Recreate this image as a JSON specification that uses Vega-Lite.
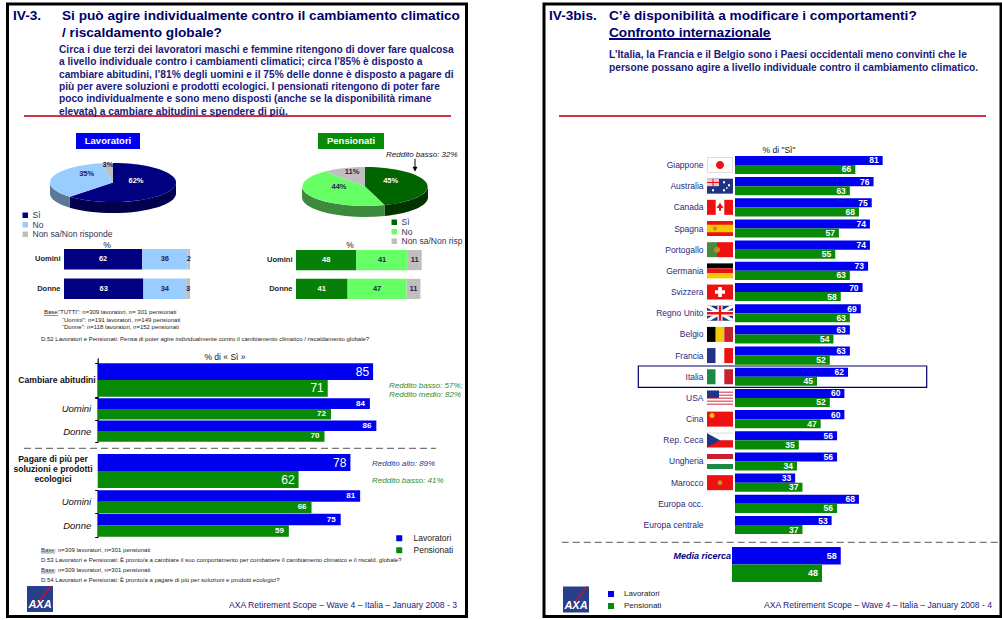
{"$schema":"https://vega.github.io/schema/vega-lite/v6.json","width":1002,"height":620,"padding":0,"autosize":"none","background":"white",
"config":{"view":{"stroke":null},"font":"Liberation Sans","text":{"baseline":"alphabetic","font":"Liberation Sans"}},
"resolve":{"scale":{"x":"independent","y":"independent","color":"independent","shape":"independent","yOffset":"independent"},"axis":{"x":"independent","y":"independent"},"legend":{"color":"independent"}},
"datasets":{
"testi":[
{"blocco":"titolo","col":1,"riga":1,"testo":"IV-3."},
{"blocco":"titolo","col":2,"riga":1,"testo":"Si può agire individualmente contro il cambiamento climatico"},
{"blocco":"titolo","col":2,"riga":2,"testo":"/ riscaldamento globale?"},
{"blocco":"titolo","col":3,"riga":1,"testo":"IV-3bis."},
{"blocco":"titolo","col":4,"riga":1,"testo":"C’è disponibilità a modificare i comportamenti?"},
{"blocco":"titolo","col":4,"riga":2,"testo":"Confronto internazionale"},
{"blocco":"corpo","col":1,"riga":1,"testo":"Circa i due terzi dei lavoratori maschi e femmine ritengono di dover fare qualcosa"},
{"blocco":"corpo","col":1,"riga":2,"testo":"a livello individuale contro i cambiamenti climatici; circa l’85% è disposto a"},
{"blocco":"corpo","col":1,"riga":3,"testo":"cambiare abitudini, l’81% degli uomini e il 75% delle donne è disposto a pagare di"},
{"blocco":"corpo","col":1,"riga":4,"testo":"più per avere soluzioni e prodotti ecologici. I pensionati ritengono di poter fare"},
{"blocco":"corpo","col":1,"riga":5,"testo":"poco individualmente e sono meno disposti (anche se la disponibilità rimane"},
{"blocco":"corpo","col":1,"riga":6,"testo":"elevata) a cambiare abitudini e spendere di più."},
{"blocco":"corpo","col":2,"riga":7,"testo":"L’Italia, la Francia e il Belgio sono i Paesi occidentali meno convinti che le"},
{"blocco":"corpo","col":2,"riga":8,"testo":"persone possano agire a livello individuale contro il cambiamento climatico."},
{"blocco":"note","col":2,"riga":1,"testo":"Base:"},
{"blocco":"note","col":3,"riga":1,"testo":"“TUTTI”: n=309 lavoratori, n= 301 pensionati"},
{"blocco":"note","col":4,"riga":2,"testo":"“Uomini”: n=191 lavoratori, n=149 pensionati"},
{"blocco":"note","col":4,"riga":3,"testo":"“Donne”: n=118 lavoratori, n=152 pensionati"},
{"blocco":"note","col":1,"riga":4,"testo":"D.52 Lavoratori e Pensionati: Pensa di poter agire individualmente contro il cambiamento climatico / riscaldamento globale?"},
{"blocco":"note","col":1,"riga":5,"testo":"Base:"},
{"blocco":"note","col":3,"riga":5,"testo":"n=309 lavoratori, n=301 pensionati"},
{"blocco":"note","col":1,"riga":6,"testo":"D.53 Lavoratori e Pensionati: È pronto/a a cambiare il suo comportamento per combattere il cambiamento climatico e il riscald. globale?"},
{"blocco":"note","col":1,"riga":7,"testo":"Base:"},
{"blocco":"note","col":3,"riga":7,"testo":"n=309 lavoratori, n=301 pensionati"},
{"blocco":"note","col":1,"riga":8,"testo":"D.54 Lavoratori e Pensionati: È pronto/a a pagare di più per soluzioni e prodotti ecologici?"},
{"blocco":"piede","col":1,"riga":1,"testo":"AXA Retirement Scope – Wave 4 – Italia –  January 2008 - 3"},
{"blocco":"piede","col":2,"riga":1,"testo":"AXA Retirement Scope – Wave 4 – Italia –  January 2008 - 4"},
{"blocco":"percento","col":1,"riga":2,"testo":"%"},
{"blocco":"percento","col":2,"riga":3,"testo":"% di « Sì »"},
{"blocco":"percento","col":3,"riga":2,"testo":"%"},
{"blocco":"percento","col":4,"riga":1,"testo":"% di \"Sì\""},
{"blocco":"freccia","col":1,"riga":1,"testo":"Reddito basso: 32%"},
{"blocco":"verde","col":2,"riga":1,"testo":"Reddito basso: 57%;"},
{"blocco":"verde","col":2,"riga":2,"testo":"Reddito medio: 82%"},
{"blocco":"verde","col":1,"riga":3,"testo":"Reddito basso: 41%"},
{"blocco":"blu","col":1,"riga":1,"testo":"Reddito alto: 89%"},
{"blocco":"tema","col":1,"riga":1,"testo":"Cambiare abitudini"},
{"blocco":"tema","col":2,"riga":2,"testo":"Pagare di più per"},
{"blocco":"tema","col":2,"riga":3,"testo":"soluzioni e prodotti"},
{"blocco":"tema","col":2,"riga":4,"testo":"ecologici"},
{"blocco":"media","col":1,"riga":1,"testo":"Media ricerca"}
],
"torte":[
{"gruppo":"Lavoratori","risposta":"Sì","valore":62,"n":1},
{"gruppo":"Lavoratori","risposta":"No","valore":35,"n":2},
{"gruppo":"Lavoratori","risposta":"Non sa/Non risponde","valore":3,"n":3},
{"gruppo":"Pensionati","risposta":"Sì","valore":45,"n":4},
{"gruppo":"Pensionati","risposta":"No","valore":44,"n":5},
{"gruppo":"Pensionati","risposta":"Non sa/Non risp","valore":11,"n":6}
],
"barre":[
{"gruppo":"Lavoratori","sesso":"Uomini","risposta":"Sì","ordine":1,"valore":62},
{"gruppo":"Lavoratori","sesso":"Uomini","risposta":"No","ordine":2,"valore":36},
{"gruppo":"Lavoratori","sesso":"Uomini","risposta":"Non sa","ordine":3,"valore":2},
{"gruppo":"Lavoratori","sesso":"Donne","risposta":"Sì","ordine":1,"valore":63},
{"gruppo":"Lavoratori","sesso":"Donne","risposta":"No","ordine":2,"valore":34},
{"gruppo":"Lavoratori","sesso":"Donne","risposta":"Non sa","ordine":3,"valore":3},
{"gruppo":"Pensionati","sesso":"Uomini","risposta":"Sì","ordine":1,"valore":48},
{"gruppo":"Pensionati","sesso":"Uomini","risposta":"No","ordine":2,"valore":41},
{"gruppo":"Pensionati","sesso":"Uomini","risposta":"Non sa","ordine":3,"valore":11},
{"gruppo":"Pensionati","sesso":"Donne","risposta":"Sì","ordine":1,"valore":41},
{"gruppo":"Pensionati","sesso":"Donne","risposta":"No","ordine":2,"valore":47},
{"gruppo":"Pensionati","sesso":"Donne","risposta":"Non sa","ordine":3,"valore":11}
],
"generale":[
{"tema":"Cambiare","sesso":"Totale","gruppo":"Lavoratori","valore":85},
{"tema":"Cambiare","sesso":"Totale","gruppo":"Pensionati","valore":71},
{"tema":"Cambiare","sesso":"Uomini","gruppo":"Lavoratori","valore":84},
{"tema":"Cambiare","sesso":"Uomini","gruppo":"Pensionati","valore":72},
{"tema":"Cambiare","sesso":"Donne","gruppo":"Lavoratori","valore":86},
{"tema":"Cambiare","sesso":"Donne","gruppo":"Pensionati","valore":70},
{"tema":"Pagare","sesso":"Totale","gruppo":"Lavoratori","valore":78},
{"tema":"Pagare","sesso":"Totale","gruppo":"Pensionati","valore":62},
{"tema":"Pagare","sesso":"Uomini","gruppo":"Lavoratori","valore":81},
{"tema":"Pagare","sesso":"Uomini","gruppo":"Pensionati","valore":66},
{"tema":"Pagare","sesso":"Donne","gruppo":"Lavoratori","valore":75},
{"tema":"Pagare","sesso":"Donne","gruppo":"Pensionati","valore":59}
],
"paesi":[
{"paese":"Giappone","gruppo":"Lavoratori","valore":81},{"paese":"Giappone","gruppo":"Pensionati","valore":66},
{"paese":"Australia","gruppo":"Lavoratori","valore":76},{"paese":"Australia","gruppo":"Pensionati","valore":63},
{"paese":"Canada","gruppo":"Lavoratori","valore":75},{"paese":"Canada","gruppo":"Pensionati","valore":68},
{"paese":"Spagna","gruppo":"Lavoratori","valore":74},{"paese":"Spagna","gruppo":"Pensionati","valore":57},
{"paese":"Portogallo","gruppo":"Lavoratori","valore":74},{"paese":"Portogallo","gruppo":"Pensionati","valore":55},
{"paese":"Germania","gruppo":"Lavoratori","valore":73},{"paese":"Germania","gruppo":"Pensionati","valore":63},
{"paese":"Svizzera","gruppo":"Lavoratori","valore":70},{"paese":"Svizzera","gruppo":"Pensionati","valore":58},
{"paese":"Regno Unito","gruppo":"Lavoratori","valore":69},{"paese":"Regno Unito","gruppo":"Pensionati","valore":63},
{"paese":"Belgio","gruppo":"Lavoratori","valore":63},{"paese":"Belgio","gruppo":"Pensionati","valore":54},
{"paese":"Francia","gruppo":"Lavoratori","valore":63},{"paese":"Francia","gruppo":"Pensionati","valore":52},
{"paese":"Italia","gruppo":"Lavoratori","valore":62},{"paese":"Italia","gruppo":"Pensionati","valore":45},
{"paese":"USA","gruppo":"Lavoratori","valore":60},{"paese":"USA","gruppo":"Pensionati","valore":52},
{"paese":"Cina","gruppo":"Lavoratori","valore":60},{"paese":"Cina","gruppo":"Pensionati","valore":47},
{"paese":"Rep. Ceca","gruppo":"Lavoratori","valore":56},{"paese":"Rep. Ceca","gruppo":"Pensionati","valore":35},
{"paese":"Ungheria","gruppo":"Lavoratori","valore":56},{"paese":"Ungheria","gruppo":"Pensionati","valore":34},
{"paese":"Marocco","gruppo":"Lavoratori","valore":33},{"paese":"Marocco","gruppo":"Pensionati","valore":37},
{"paese":"Europa occ.","gruppo":"Lavoratori","valore":68},{"paese":"Europa occ.","gruppo":"Pensionati","valore":56},
{"paese":"Europa centrale","gruppo":"Lavoratori","valore":53},{"paese":"Europa centrale","gruppo":"Pensionati","valore":37}
],
"media":[{"voce":"Media ricerca","gruppo":"Lavoratori","valore":58},{"voce":"Media ricerca","gruppo":"Pensionati","valore":48}],
"bandiere":[
{"paese":"Giappone","forma":"fondo","tinta":"grigio"},{"paese":"Giappone","forma":"interno","tinta":"bianco"},{"paese":"Giappone","forma":"disco","tinta":"rosso"},
{"paese":"Australia","forma":"fondo","tinta":"blu"},{"paese":"Australia","forma":"cantone","tinta":"rosa"},{"paese":"Australia","forma":"crocetta","tinta":"rosso"},{"paese":"Australia","forma":"stelle","tinta":"bianco"},
{"paese":"Canada","forma":"fondo","tinta":"bianco"},{"paese":"Canada","forma":"v1","tinta":"rosso"},{"paese":"Canada","forma":"v3","tinta":"rosso"},{"paese":"Canada","forma":"foglia","tinta":"rosso"},
{"paese":"Spagna","forma":"fondo","tinta":"giallo"},{"paese":"Spagna","forma":"fasce","tinta":"rosso"},{"paese":"Spagna","forma":"stemma","tinta":"arancio"},
{"paese":"Portogallo","forma":"sin40","tinta":"verdeP"},{"paese":"Portogallo","forma":"des60","tinta":"rosso"},{"paese":"Portogallo","forma":"sfera","tinta":"arancio"},
{"paese":"Germania","forma":"h1","tinta":"nero"},{"paese":"Germania","forma":"h2","tinta":"rosso"},{"paese":"Germania","forma":"h3","tinta":"giallo"},
{"paese":"Svizzera","forma":"fondo","tinta":"rosso"},{"paese":"Svizzera","forma":"croce","tinta":"bianco"},
{"paese":"Regno Unito","forma":"fondo","tinta":"blu"},{"paese":"Regno Unito","forma":"xgb","tinta":"bianco"},{"paese":"Regno Unito","forma":"croceGB","tinta":"bianco"},{"paese":"Regno Unito","forma":"croceRossa","tinta":"rosso"},
{"paese":"Belgio","forma":"v1","tinta":"nero"},{"paese":"Belgio","forma":"v2","tinta":"giallo"},{"paese":"Belgio","forma":"v3","tinta":"rossoScuro"},
{"paese":"Francia","forma":"v1","tinta":"blu"},{"paese":"Francia","forma":"v2","tinta":"bianco"},{"paese":"Francia","forma":"v3","tinta":"rosso"},
{"paese":"Italia","forma":"v1","tinta":"verde"},{"paese":"Italia","forma":"v2","tinta":"bianco"},{"paese":"Italia","forma":"v3","tinta":"rossoScuro"},
{"paese":"USA","forma":"fondo","tinta":"bianco"},{"paese":"USA","forma":"strisce","tinta":"rossoChiaro"},{"paese":"USA","forma":"cantone","tinta":"blu"},
{"paese":"Cina","forma":"fondo","tinta":"rosso"},{"paese":"Cina","forma":"stella","tinta":"giallo"},
{"paese":"Rep. Ceca","forma":"fondo","tinta":"grigio"},{"paese":"Rep. Ceca","forma":"metaAlta","tinta":"bianco"},{"paese":"Rep. Ceca","forma":"metaBassa","tinta":"rosso"},{"paese":"Rep. Ceca","forma":"triangolo","tinta":"blu"},
{"paese":"Ungheria","forma":"h1","tinta":"rossoScuro"},{"paese":"Ungheria","forma":"h2","tinta":"bianco"},{"paese":"Ungheria","forma":"h3","tinta":"verde"},
{"paese":"Marocco","forma":"fondo","tinta":"rosso"},{"paese":"Marocco","forma":"stemmaC","tinta":"arancio"}
],
"cornici":[{"da":1,"a":2,"su":1,"giu":2},{"da":3,"a":4,"su":1,"giu":2}],
"linee":[{"da":1,"a":2,"livello":1},{"da":3,"a":4,"livello":2}],
"caselle":[{"gruppo":"Lavoratori"},{"gruppo":"Pensionati"}],
"pagine":[{"pagina":"IV-3."},{"pagina":"IV-3bis."}]
},
"layer":[
{"data":{"name":"cornici"},"mark":{"type":"rect","fillOpacity":0,"stroke":"black","strokeWidth":3},"encoding":{"x":{"field":"da","type":"quantitative","scale":{"domain":[1,2,3,4],"range":[7.5,466.5,544,1001]},"axis":null},"x2":{"field":"a"},"y":{"field":"su","type":"quantitative","scale":{"domain":[1,2],"range":[4,616.5]},"axis":null},"y2":{"field":"giu"}}},
{"data":{"name":"linee"},"mark":{"type":"rule","stroke":"#cc3344","strokeWidth":2},"encoding":{"x":{"field":"da","type":"quantitative","scale":{"domain":[1,2,3,4],"range":[24,451,559,986]},"axis":null},"x2":{"field":"a"},"y":{"field":"livello","type":"quantitative","scale":{"domain":[1,2],"range":[116,116]},"axis":null}}},
{"data":{"name":"linee"},"mark":{"type":"rule","stroke":"#555555","strokeWidth":1,"strokeDash":[7,4]},"encoding":{"x":{"field":"da","type":"quantitative","scale":{"domain":[1,2,3,4],"range":[24,436,561.7,997.7]},"axis":null},"x2":{"field":"a"},"y":{"field":"livello","type":"quantitative","scale":{"domain":[1,2],"range":[448.3,542.3]},"axis":null}}},
{"data":{"name":"pagine"},"transform":[{"filter":"datum.pagina==='IV-3bis.'"}],"mark":{"type":"rule","stroke":"#000080","strokeWidth":2},"encoding":{"x":{"datum":0,"type":"quantitative","scale":{"domain":[0,1],"range":[609,771]},"axis":null},"x2":{"datum":1},"y":{"field":"pagina","type":"nominal","scale":{"type":"point","range":[39,39]},"axis":null}}},
{"data":{"name":"pagine"},"transform":[{"filter":"datum.pagina==='IV-3bis.'"}],"mark":{"type":"rect","fillOpacity":0,"stroke":"#000066","strokeWidth":1.2},"encoding":{"x":{"datum":0,"type":"quantitative","scale":{"domain":[0,1],"range":[638.3,926.7]},"axis":null},"x2":{"datum":1},"y":{"datum":0,"type":"quantitative","scale":{"domain":[0,1],"range":[366,387.3]},"axis":null},"y2":{"datum":1}}},

{"data":{"name":"testi"},"transform":[{"filter":"datum.blocco==='titolo'"}],"mark":{"type":"text","align":"left","fontSize":13.65,"fontWeight":"bold","fill":"#000066"},"encoding":{"x":{"field":"col","type":"quantitative","scale":{"domain":[1,2,3,4],"range":[13,62,549,609]},"axis":null},"y":{"field":"riga","type":"quantitative","scale":{"domain":[1,2],"range":[20,36.5]},"axis":null},"text":{"field":"testo"}}},
{"data":{"name":"testi"},"transform":[{"filter":"datum.blocco==='corpo'"}],"mark":{"type":"text","align":"left","fontSize":10.2,"fontWeight":"bold","fill":"#1a1a7a"},"encoding":{"x":{"field":"col","type":"quantitative","scale":{"domain":[1,2],"range":[59,609]},"axis":null},"y":{"field":"riga","type":"quantitative","scale":{"domain":[1,2,3,4,5,6,7,8],"range":[52.7,65,77.5,90,102,115,58,71]},"axis":null},"text":{"field":"testo"}}},
{"data":{"name":"testi"},"transform":[{"filter":"datum.blocco==='note'"}],"encoding":{"x":{"field":"col","type":"quantitative","scale":{"domain":[1,2,3,4],"range":[41,44,58,62]},"axis":null},"y":{"field":"riga","type":"quantitative","scale":{"domain":[1,2,3,4,5,6,7,8],"range":[314,321.7,329,340.7,551.7,561.7,571.7,581.7]},"axis":null}},"layer":[
 {"mark":{"type":"text","align":"left","fontSize":6,"fill":"#222222"},"encoding":{"text":{"field":"testo"}}},
 {"transform":[{"filter":"datum.testo==='Base:'"}],"mark":{"type":"point","filled":true,"size":4,"strokeWidth":0,"opacity":1,"shape":"M0,1H14V1.5H0Z","fill":"#222222"}}
]},
{"data":{"name":"testi"},"transform":[{"filter":"datum.blocco==='piede'"}],"mark":{"type":"text","align":"left","fontSize":8.6,"fill":"#22227a"},"encoding":{"x":{"field":"col","type":"quantitative","scale":{"domain":[1,2],"range":[229,764]},"axis":null},"y":{"field":"riga","type":"quantitative","scale":{"domain":[0,1],"range":[607.7,607.7]},"axis":null},"text":{"field":"testo"}}},
{"data":{"name":"testi"},"transform":[{"filter":"datum.blocco==='percento'"}],"mark":{"type":"text","align":"center","fontSize":8.5,"fill":"#111111"},"encoding":{"x":{"field":"col","type":"quantitative","scale":{"domain":[1,2,3,4],"range":[107,225,350,779]},"axis":null},"y":{"field":"riga","type":"quantitative","scale":{"domain":[1,2,3],"range":[153,248,360]},"axis":null},"text":{"field":"testo"}}},
{"data":{"name":"testi"},"transform":[{"filter":"datum.blocco==='freccia'"}],"encoding":{"x":{"field":"col","type":"quantitative","scale":{"domain":[0,1],"range":[386,386]},"axis":null},"y":{"field":"riga","type":"quantitative","scale":{"domain":[0,1],"range":[156.7,156.7]},"axis":null}},"layer":[
 {"mark":{"type":"text","align":"left","fontSize":8,"fontStyle":"italic","fill":"#111111"},"encoding":{"text":{"field":"testo"}}},
 {"mark":{"type":"point","filled":true,"size":4,"strokeWidth":0,"opacity":1,"shape":"M28.5,2H29.5V10H31.5L29,15L26.5,10H28.5Z","fill":"#000000"}}
]},
{"data":{"name":"testi"},"transform":[{"filter":"datum.blocco==='verde'"}],"mark":{"type":"text","align":"left","fontSize":8,"fontStyle":"italic","fill":"#2e8b2e"},"encoding":{"x":{"field":"col","type":"quantitative","scale":{"domain":[1,2],"range":[372,389]},"axis":null},"y":{"field":"riga","type":"quantitative","scale":{"domain":[1,2,3],"range":[387.7,396.7,482.7]},"axis":null},"text":{"field":"testo"}}},
{"data":{"name":"testi"},"transform":[{"filter":"datum.blocco==='blu'"}],"mark":{"type":"text","align":"left","fontSize":8,"fontStyle":"italic","fill":"#2233aa"},"encoding":{"x":{"field":"col","type":"quantitative","scale":{"domain":[0,1],"range":[372,372]},"axis":null},"y":{"field":"riga","type":"quantitative","scale":{"domain":[0,1],"range":[465.7,465.7]},"axis":null},"text":{"field":"testo"}}},
{"data":{"name":"testi"},"transform":[{"filter":"datum.blocco==='tema'"}],"mark":{"type":"text","align":"center","fontSize":8.6,"fontWeight":"bold","fill":"#111111"},"encoding":{"x":{"field":"col","type":"quantitative","scale":{"domain":[1,2],"range":[57,53]},"axis":null},"y":{"field":"riga","type":"quantitative","scale":{"domain":[1,2,3,4],"range":[383,461.7,471.7,481.7]},"axis":null},"text":{"field":"testo"}}},
{"data":{"name":"testi"},"transform":[{"filter":"datum.blocco==='media'"}],"mark":{"type":"text","align":"right","fontSize":9,"fontWeight":"bold","fontStyle":"italic","fill":"#000080"},"encoding":{"x":{"field":"col","type":"quantitative","scale":{"domain":[0,1],"range":[731,731]},"axis":null},"y":{"field":"riga","type":"quantitative","scale":{"domain":[0,1],"range":[559,559]},"axis":null},"text":{"field":"testo"}}},

{"data":{"name":"caselle"},"encoding":{"x":{"field":"gruppo","type":"nominal","scale":{"type":"point","domain":["Lavoratori","Pensionati"],"range":[108,351],"padding":0},"axis":null},"y":{"field":"gruppo","type":"nominal","scale":{"type":"point","domain":["Lavoratori","Pensionati"],"range":[141,141]},"axis":null}},"layer":[
 {"mark":{"type":"point","filled":true,"size":4,"strokeWidth":0,"opacity":1},"encoding":{"shape":{"field":"gruppo","scale":{"domain":["Lavoratori","Pensionati"],"range":["M-32,-8H32V8H-32Z","M-33,-8H33V8H-33Z"]},"legend":null},"color":{"field":"gruppo","scale":{"domain":["Lavoratori","Pensionati"],"range":["#0000ee","#078b07"]},"legend":null}}},
 {"mark":{"type":"text","fontSize":9.5,"fontWeight":"bold","fill":"white","baseline":"middle"},"encoding":{"text":{"field":"gruppo"}}}
]},

{"data":{"name":"torte"},"transform":[{"filter":"datum.gruppo==='Lavoratori'"}],"mark":{"type":"point","filled":true,"size":4,"strokeWidth":0,"opacity":1},"encoding":{"x":{"field":"gruppo","type":"nominal","scale":{"type":"point","range":[113,113]},"axis":null},"y":{"field":"gruppo","type":"nominal","scale":{"type":"point","range":[182.5,182.5]},"axis":null},"shape":{"field":"risposta","scale":{"domain":["Sì","No","Non sa/Non risponde"],"range":["M63,0A63,19.5 0 0 1 -43.1,14.2L-43.1,25.2A63,19.5 0 0 0 63,11Z","M-43.1,14.2A63,19.5 0 0 1 -63,0L-63,11A63,19.5 0 0 0 -43.1,25.2Z","M0,0Z"]},"legend":null},"color":{"field":"risposta","scale":{"domain":["Sì","No","Non sa/Non risponde"],"range":["#00004d","#5b7896","#999999"]},"legend":null}}},
{"data":{"name":"torte"},"transform":[{"filter":"datum.gruppo==='Lavoratori'"}],"mark":{"type":"point","filled":true,"size":4,"strokeWidth":0,"opacity":1},"encoding":{"x":{"field":"gruppo","type":"nominal","scale":{"type":"point","range":[113,113]},"axis":null},"y":{"field":"gruppo","type":"nominal","scale":{"type":"point","range":[182.5,182.5]},"axis":null},"shape":{"field":"risposta","scale":{"domain":["Sì","No","Non sa/Non risponde"],"range":["M0,0L0,-19.5A63,19.5 0 1 1 -43.1,14.2Z","M0,0L-43.1,14.2A63,19.5 0 0 1 -11.8,-19.15Z","M0,0L-11.8,-19.15A63,19.5 0 0 1 0,-19.5Z"]},"legend":null},"color":{"field":"risposta","scale":{"domain":["Sì","No","Non sa/Non risponde"],"range":["#000080","#99ccff","#bfbfbf"]},"legend":null}}},
{"data":{"name":"torte"},"transform":[{"filter":"datum.gruppo==='Lavoratori'"}],"mark":{"type":"point","filled":true,"size":0,"strokeWidth":0},"encoding":{"x":{"field":"gruppo","type":"nominal","scale":{"type":"point","range":[113,113]},"axis":null},"y":{"field":"gruppo","type":"nominal","scale":{"type":"point","range":[182.5,182.5]},"axis":null},"color":{"field":"risposta","scale":{"domain":["Sì","No","Non sa/Non risponde"],"range":["#000080","#99ccff","#bfbfbf"]},"legend":{"orient":"none","legendX":21,"legendY":211,"title":null,"symbolType":"square","symbolSize":30,"labelFontSize":8.5,"labelColor":"#333355","rowPadding":0.5,"labelOffset":3,"symbolOpacity":1}}}},
{"data":{"name":"torte"},"transform":[{"filter":"datum.gruppo==='Pensionati'"}],"mark":{"type":"point","filled":true,"size":4,"strokeWidth":0,"opacity":1},"encoding":{"x":{"field":"gruppo","type":"nominal","scale":{"type":"point","range":[365,365]},"axis":null},"y":{"field":"gruppo","type":"nominal","scale":{"type":"point","range":[186.5,186.5]},"axis":null},"shape":{"field":"risposta","scale":{"domain":["Sì","No","Non sa/Non risp"],"range":["M63,0A63,19.5 0 0 1 19.5,18.5L19.5,29.5A63,19.5 0 0 0 63,11Z","M19.5,18.5A63,19.5 0 0 1 -63,0L-63,11A63,19.5 0 0 0 19.5,29.5Z","M0,0Z"]},"legend":null},"color":{"field":"risposta","scale":{"domain":["Sì","No","Non sa/Non risp"],"range":["#003300","#3d8a3d","#999999"]},"legend":null}}},
{"data":{"name":"torte"},"transform":[{"filter":"datum.gruppo==='Pensionati'"}],"mark":{"type":"point","filled":true,"size":4,"strokeWidth":0,"opacity":1},"encoding":{"x":{"field":"gruppo","type":"nominal","scale":{"type":"point","range":[365,365]},"axis":null},"y":{"field":"gruppo","type":"nominal","scale":{"type":"point","range":[186.5,186.5]},"axis":null},"shape":{"field":"risposta","scale":{"domain":["Sì","No","Non sa/Non risp"],"range":["M0,0L0,-19.5A63,19.5 0 0 1 19.5,18.5Z","M0,0L19.5,18.5A63,19.5 0 0 1 -40.1,-15Z","M0,0L-40.1,-15A63,19.5 0 0 1 0,-19.5Z"]},"legend":null},"color":{"field":"risposta","scale":{"domain":["Sì","No","Non sa/Non risp"],"range":["#006400","#66ff66","#bfbfbf"]},"legend":null}}},
{"data":{"name":"torte"},"transform":[{"filter":"datum.gruppo==='Pensionati'"}],"mark":{"type":"point","filled":true,"size":0,"strokeWidth":0},"encoding":{"x":{"field":"gruppo","type":"nominal","scale":{"type":"point","range":[365,365]},"axis":null},"y":{"field":"gruppo","type":"nominal","scale":{"type":"point","range":[186.5,186.5]},"axis":null},"color":{"field":"risposta","scale":{"domain":["Sì","No","Non sa/Non risp"],"range":["#006400","#66ff66","#bfbfbf"]},"legend":{"orient":"none","legendX":390,"legendY":218,"title":null,"symbolType":"square","symbolSize":30,"labelFontSize":8.5,"labelColor":"#333355","rowPadding":0.5,"labelOffset":3,"symbolOpacity":1}}}},
{"data":{"name":"torte"},"transform":[{"calculate":"datum.valore+'%'","as":"etichetta"}],"mark":{"type":"text","fontSize":7.5,"fontWeight":"bold","baseline":"middle"},"encoding":{"x":{"field":"n","type":"quantitative","scale":{"domain":[1,2,3,4,5,6],"range":[136,86.7,108,390.7,339,352]},"axis":null},"y":{"field":"n","type":"quantitative","scale":{"domain":[1,2,3,4,5,6],"range":[180.7,174,165,180.7,187,171.7]},"axis":null},"text":{"field":"etichetta"},"color":{"condition":{"test":"datum.risposta==='Sì'","value":"white"},"value":"#222255"}}},

{"data":{"name":"barre"},"transform":[{"filter":"datum.gruppo==='Lavoratori'"},{"stack":"valore","groupby":["sesso"],"sort":[{"field":"ordine","order":"ascending"}],"as":["da","a"]},{"calculate":"(datum.da+datum.a)/2","as":"centro"}],"encoding":{"y":{"field":"sesso","type":"nominal","scale":{"domain":["Uomini","Donne"],"range":[249,299],"paddingInner":0.3,"paddingOuter":0},"axis":{"title":null,"orient":"left","offset":-64,"domain":false,"ticks":false,"labelPadding":4,"labelFontSize":7.5,"labelFontWeight":"bold","labelColor":"#222222"}}},"layer":[
 {"mark":"bar","encoding":{"x":{"field":"da","type":"quantitative","scale":{"domain":[0,100],"range":[64,190]},"axis":null},"x2":{"field":"a"},"color":{"field":"risposta","scale":{"domain":["Sì","No","Non sa"],"range":["#000080","#99ccff","#bfbfbf"]},"legend":null}}},
 {"mark":{"type":"text","fontSize":7.5,"fontWeight":"bold","baseline":"middle"},"encoding":{"x":{"field":"centro","type":"quantitative","axis":null},"text":{"field":"valore"},"color":{"condition":{"test":"datum.risposta==='Sì'","value":"white"},"value":"#222255"}}}
]},
{"data":{"name":"barre"},"transform":[{"filter":"datum.gruppo==='Pensionati'"},{"stack":"valore","groupby":["sesso"],"sort":[{"field":"ordine","order":"ascending"}],"as":["da","a"]},{"calculate":"(datum.da+datum.a)/2","as":"centro"}],"encoding":{"y":{"field":"sesso","type":"nominal","scale":{"domain":["Uomini","Donne"],"range":[250,299],"paddingInner":0.3,"paddingOuter":0},"axis":{"title":null,"orient":"left","offset":-296,"domain":false,"ticks":false,"labelPadding":4,"labelFontSize":7.5,"labelFontWeight":"bold","labelColor":"#222222"}}},"layer":[
 {"mark":"bar","encoding":{"x":{"field":"da","type":"quantitative","scale":{"domain":[0,100],"range":[296,421.7]},"axis":null},"x2":{"field":"a"},"color":{"field":"risposta","scale":{"domain":["Sì","No","Non sa"],"range":["#078007","#66ff66","#bfbfbf"]},"legend":null}}},
 {"mark":{"type":"text","fontSize":7.5,"fontWeight":"bold","baseline":"middle"},"encoding":{"x":{"field":"centro","type":"quantitative","axis":null},"text":{"field":"valore"},"color":{"condition":{"test":"datum.risposta==='Sì'","value":"white"},"value":"#222255"}}}
]},

{"data":{"name":"generale"},"transform":[{"filter":"datum.tema==='Cambiare'&&datum.sesso==='Totale'"}],"encoding":{"x":{"field":"valore","type":"quantitative","stack":null,"scale":{"domain":[0,100],"range":[97.7,421.7]},"axis":null},"y":{"field":"tema","type":"nominal","scale":{"range":[358,398],"paddingInner":0,"paddingOuter":0.1,"align":0.8},"axis":{"title":null,"orient":"left","offset":-97.7,"labels":false,"tickBand":"extent","tickSize":3,"domainColor":"#000000","tickColor":"#000000","domainWidth":1.2}},"yOffset":{"field":"gruppo","type":"nominal","scale":{"domain":["Lavoratori","Pensionati"],"paddingInner":0}}},"layer":[
 {"mark":"bar","encoding":{"color":{"field":"gruppo","type":"nominal","scale":{"domain":["Lavoratori","Pensionati"],"range":["#0000ee","#078b07"]},"legend":{"orient":"none","legendX":395,"legendY":534,"title":null,"symbolType":"square","symbolSize":36,"labelFontSize":8.5,"labelColor":"#222222","rowPadding":3,"labelOffset":10}}}},
 {"mark":{"type":"text","align":"right","dx":-4,"fontSize":12,"fill":"white","baseline":"middle"},"encoding":{"text":{"field":"valore"}}}
]},
{"data":{"name":"generale"},"transform":[{"filter":"datum.tema==='Pagare'&&datum.sesso==='Totale'"}],"encoding":{"x":{"field":"valore","type":"quantitative","stack":null,"scale":{"domain":[0,100],"range":[97.7,421.7]},"axis":null},"y":{"field":"tema","type":"nominal","scale":{"range":[454,488],"paddingInner":0,"paddingOuter":0},"axis":null},"yOffset":{"field":"gruppo","type":"nominal","scale":{"domain":["Lavoratori","Pensionati"],"paddingInner":0}}},"layer":[
 {"mark":"bar","encoding":{"color":{"field":"gruppo","type":"nominal","scale":{"domain":["Lavoratori","Pensionati"],"range":["#0000ee","#078b07"]},"legend":null}}},
 {"mark":{"type":"text","align":"right","dx":-4,"fontSize":12,"fill":"white","baseline":"middle"},"encoding":{"text":{"field":"valore"}}}
]},
{"data":{"name":"generale"},"transform":[{"filter":"datum.tema==='Cambiare'&&datum.sesso!=='Totale'"}],"encoding":{"x":{"field":"valore","type":"quantitative","stack":null,"scale":{"domain":[0,100],"range":[97.7,421.7]},"axis":null},"y":{"field":"sesso","type":"nominal","scale":{"domain":["Uomini","Donne"],"range":[398,442],"paddingInner":0.04,"paddingOuter":0.01},"axis":{"title":null,"orient":"left","offset":-97.7,"tickBand":"extent","tickSize":3,"labelPadding":4,"labelFontSize":9.5,"labelFontStyle":"italic","labelColor":"#111111","domainColor":"#000000","tickColor":"#000000","domainWidth":1.2}},"yOffset":{"field":"gruppo","type":"nominal","scale":{"domain":["Lavoratori","Pensionati"],"paddingInner":0}}},"layer":[
 {"mark":"bar","encoding":{"color":{"field":"gruppo","type":"nominal","scale":{"domain":["Lavoratori","Pensionati"],"range":["#0000ee","#078b07"]},"legend":null}}},
 {"mark":{"type":"text","align":"right","dx":-5,"fontSize":8,"fontWeight":"bold","fill":"white","baseline":"middle"},"encoding":{"text":{"field":"valore"}}}
]},
{"data":{"name":"generale"},"transform":[{"filter":"datum.tema==='Pagare'&&datum.sesso!=='Totale'"}],"encoding":{"x":{"field":"valore","type":"quantitative","stack":null,"scale":{"domain":[0,100],"range":[97.7,421.7]},"axis":null},"y":{"field":"sesso","type":"nominal","scale":{"domain":["Uomini","Donne"],"range":[490,537],"paddingInner":0.03,"paddingOuter":0.01},"axis":{"title":null,"orient":"left","offset":-97.7,"tickBand":"extent","tickSize":3,"labelPadding":4,"labelFontSize":9.5,"labelFontStyle":"italic","labelColor":"#111111","domainColor":"#000000","tickColor":"#000000","domainWidth":1.2}},"yOffset":{"field":"gruppo","type":"nominal","scale":{"domain":["Lavoratori","Pensionati"],"paddingInner":0}}},"layer":[
 {"mark":"bar","encoding":{"color":{"field":"gruppo","type":"nominal","scale":{"domain":["Lavoratori","Pensionati"],"range":["#0000ee","#078b07"]},"legend":null}}},
 {"mark":{"type":"text","align":"right","dx":-5,"fontSize":8,"fontWeight":"bold","fill":"white","baseline":"middle"},"encoding":{"text":{"field":"valore"}}}
]},

{"data":{"name":"paesi"},"encoding":{"x":{"field":"valore","type":"quantitative","stack":null,"scale":{"domain":[0,100],"range":[735,917.3]},"axis":null},"y":{"field":"paese","type":"nominal","sort":null,"scale":{"range":[154.4,535.6],"paddingInner":0.143,"paddingOuter":0.07},"axis":{"title":null,"orient":"left","offset":-735,"domain":false,"ticks":false,"labelPadding":32,"labelFontSize":8.5,"labelColor":"#2a2a7a"}},"yOffset":{"field":"gruppo","type":"nominal","scale":{"domain":["Lavoratori","Pensionati"],"paddingInner":0}}},"layer":[
 {"mark":"bar","encoding":{"color":{"field":"gruppo","type":"nominal","scale":{"domain":["Lavoratori","Pensionati"],"range":["#0000ee","#078b07"]},"legend":null}}},
 {"mark":{"type":"text","align":"right","dx":-4,"fontSize":8.5,"fontWeight":"bold","fill":"white","baseline":"middle"},"encoding":{"text":{"field":"valore"}}}
]},
{"data":{"name":"bandiere"},"mark":{"type":"point","filled":true,"size":4,"strokeWidth":0,"opacity":1},"encoding":{
 "x":{"datum":"bandiera","type":"nominal","scale":{"type":"point","domain":["bandiera"],"range":[720,720]},"axis":null},
 "y":{"field":"paese","type":"nominal","scale":{"domain":["Giappone","Australia","Canada","Spagna","Portogallo","Germania","Svizzera","Regno Unito","Belgio","Francia","Italia","USA","Cina","Rep. Ceca","Ungheria","Marocco","Europa occ.","Europa centrale"],"range":[154.4,535.6],"paddingInner":0.143,"paddingOuter":0.07},"axis":null},
 "shape":{"field":"forma","scale":{"domain":["fondo","interno","disco","cantone","crocetta","stelle","v1","v2","v3","foglia","fasce","stemma","sin40","des60","sfera","h1","h2","h3","croce","xgb","croceGB","croceRossa","strisce","stella","metaAlta","metaBassa","triangolo","stemmaC"],
 "range":["M-13,-7.5H13V7.5H-13Z","M-12.5,-7H12.5V7H-12.5Z","M-4,0A4,4 0 1 1 4,0A4,4 0 1 1 -4,0Z","M-13,-7.5H-1V0H-13Z","M-7.5,-7.5H-6.5V-4.2H-1V-3.2H-6.5V0H-7.5V-3.2H-13V-4.2H-7.5Z","M-8,3H-6V5H-8ZM3,-5H5V-3H3ZM8,-2H10V0H8ZM3,3H5V5H3ZM6,1H7.5V2.5H6Z","M-13,-7.5H-4.3V7.5H-13Z","M-4.3,-7.5H4.3V7.5H-4.3Z","M4.3,-7.5H13V7.5H4.3Z","M0,-4.5L3.5,0.5L1,1V3.5H-1V1L-3.5,0.5Z","M-13,-7.5H13V-3.7H-13ZM-13,3.7H13V7.5H-13Z","M-7,0A2,2 0 1 1 -3,0A2,2 0 1 1 -7,0Z","M-13,-7.5H-3V7.5H-13Z","M-3,-7.5H13V7.5H-3Z","M-6,0A3,3 0 1 1 0,0A3,3 0 1 1 -6,0Z","M-13,-7.5H13V-2.5H-13Z","M-13,-2.5H13V2.5H-13Z","M-13,2.5H13V7.5H-13Z","M-1.8,-5H1.8V-1.8H5V1.8H1.8V5H-1.8V1.8H-5V-1.8H-1.8Z","M-13,-7.5H-10L13,5.5V7.5H10L-13,-5.5ZM13,-7.5V-5.5L-10,7.5H-13V5.5L10,-7.5Z","M-2.5,-7.5H2.5V-2.5H13V2.5H2.5V7.5H-2.5V2.5H-13V-2.5H-2.5Z","M-1.2,-7.5H1.2V-1.2H13V1.2H1.2V7.5H-1.2V1.2H-13V-1.2H-1.2Z","M-13,-6.5H13V-5H-13ZM-13,-3.5H13V-2H-13ZM-13,-0.5H13V1H-13ZM-13,2.5H13V4H-13ZM-13,5.5H13V7H-13Z","M-10.5,-3.5A2.5,2.5 0 1 1 -5.5,-3.5A2.5,2.5 0 1 1 -10.5,-3.5Z","M-13,-7H13V0H-13Z","M-13,0H13V7H-13Z","M-13,-7L0,0L-13,7Z","M-2.5,0A2.5,2.5 0 1 1 2.5,0A2.5,2.5 0 1 1 -2.5,0Z"]},"legend":null},
 "color":{"field":"tinta","scale":{"domain":["grigio","bianco","rosso","blu","rosa","giallo","arancio","verdeP","nero","rossoScuro","verde","rossoChiaro"],"range":["#bbbbbb","#ffffff","#ee1111","#1f3484","#e8c8d0","#f5c800","#c98a20","#4a8a3a","#000000","#c8202f","#1c8a45","#e0707a"]},"legend":null}}},

{"data":{"name":"media"},"encoding":{"x":{"field":"valore","type":"quantitative","stack":null,"scale":{"domain":[0,100],"range":[732,919.5]},"axis":null},"y":{"field":"voce","type":"nominal","scale":{"range":[547,582],"paddingInner":0,"paddingOuter":0},"axis":null},"yOffset":{"field":"gruppo","type":"nominal","scale":{"domain":["Lavoratori","Pensionati"],"paddingInner":0}}},"layer":[
 {"mark":"bar","encoding":{"color":{"field":"gruppo","type":"nominal","scale":{"domain":["Lavoratori","Pensionati"],"range":["#0000ee","#078b07"]},"legend":{"orient":"none","legendX":607,"legendY":590,"title":null,"symbolType":"square","symbolSize":36,"labelFontSize":8,"labelColor":"#222222","rowPadding":4,"labelOffset":9}}}},
 {"mark":{"type":"text","align":"right","dx":-4,"fontSize":9,"fontWeight":"bold","fill":"white","baseline":"middle"},"encoding":{"text":{"field":"valore"}}}
]},

{"data":{"name":"pagine"},"encoding":{"x":{"field":"pagina","type":"nominal","scale":{"type":"point","domain":["IV-3.","IV-3bis."],"range":[40,576],"padding":0},"axis":null},"y":{"field":"pagina","type":"nominal","scale":{"type":"point","domain":["IV-3.","IV-3bis."],"range":[599,599.5],"padding":0},"axis":null}},"layer":[
 {"mark":{"type":"point","filled":true,"size":4,"strokeWidth":0,"opacity":1,"shape":"M-13,-13H13V13H-13Z","fill":"#27408b"}},
 {"mark":{"type":"point","filled":true,"size":4,"strokeWidth":0,"opacity":1,"shape":"M10,-13H12L-3,6H-5Z","fill":"#c8102e"}},
 {"mark":{"type":"text","fontSize":11,"fontWeight":"bold","fontStyle":"italic","fill":"white","dy":9},"encoding":{"text":{"datum":"AXA"}}}
]}
]}
